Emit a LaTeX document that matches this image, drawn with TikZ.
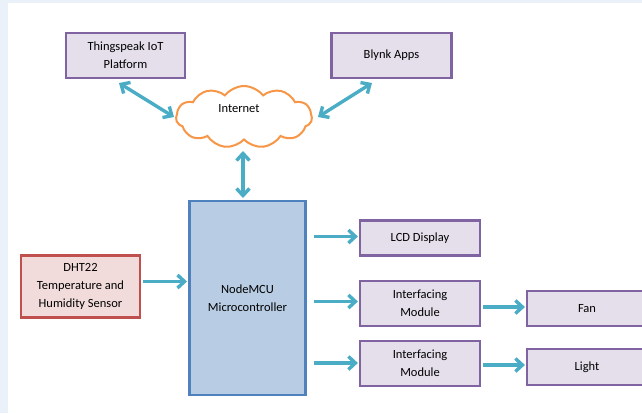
\documentclass[tikz,border=0pt]{standalone}
\usepackage{fontspec}
\setmainfont{Carlito}
\usetikzlibrary{arrows.meta,shapes.symbols}
\definecolor{purpfill}{HTML}{E5DFEC}
\definecolor{purpline}{HTML}{8064A2}
\definecolor{bluefill}{HTML}{B8CCE4}
\definecolor{blueline}{HTML}{4F81BD}
\definecolor{redfill}{HTML}{F2DCDB}
\definecolor{redline}{HTML}{C0504D}
\definecolor{arrowc}{HTML}{4BACC6}
\definecolor{orangec}{HTML}{F79646}
\definecolor{bgc}{HTML}{EAF1F8}
\tikzset{
  txt/.style={font=\fontsize{12.5}{18}\selectfont},
  pbox/.style={draw=purpline,fill=purpfill,line width=2.2pt,align=center,inner sep=0pt,txt},
  tip/.tip={Straight Barb[length=7pt,width=13pt,line width=3.4pt]},
  conn/.style={draw=arrowc,line width=3.4pt,-tip},
  bconn/.style={draw=arrowc,line width=3.4pt,tip-tip}
}
\begin{document}
\begin{tikzpicture}[x=1pt,y=-1pt]
\useasboundingbox (0,0) rectangle (642,413);
\fill[bgc] (0,0) rectangle (8,413);
\fill[bgc] (0,0) rectangle (642,3);
\clip (0,0) rectangle (642,413);
% boxes
\node[pbox,minimum width=119pt,minimum height=45pt] (ts) at (125.5,55.5) {Thingspeak IoT\\Platform};
\node[pbox,minimum width=120pt,minimum height=45pt] (bl) at (391.5,55.5) {Blynk Apps};
\node[cloud,cloud puffs=11,cloud puff arc=105,aspect=2.3,draw=orangec,fill=white,line width=2pt,
  minimum width=136pt,minimum height=62pt,inner sep=0pt] (net) at (244,117) {};
\node[txt] (nettxt) at (239,109) {Internet};
\node[draw=blueline,fill=bluefill,line width=2.2pt,minimum width=116pt,minimum height=194pt,inner sep=0pt,
  align=center,txt] (mcu) at (247.5,298) {NodeMCU\\Microcontroller};
\node[draw=redline,fill=redfill,line width=2.2pt,minimum width=119pt,minimum height=62pt,inner sep=0pt,
  align=center,txt] (dht) at (80.5,286.5) {DHT22\\Temperature and\\Humidity Sensor};
\node[pbox,minimum width=120pt,minimum height=35pt] (lcd) at (420,238) {LCD Display};
\node[pbox,minimum width=120pt,minimum height=45pt] (if1) at (420,303.5) {Interfacing\\Module};
\node[pbox,minimum width=120pt,minimum height=45pt] (if2) at (420,363.5) {Interfacing\\Module};
\node[pbox,minimum width=120pt,minimum height=35pt] (fan) at (587,308.5) {Fan};
\node[pbox,minimum width=120pt,minimum height=36pt] (lt) at (587,367) {Light};
% connectors
\draw[bconn] (119,83) -- (174,117);
\draw[bconn] (372,83) -- (318,117);
\draw[bconn] (243,151) -- (243,198);
\coordinate (d1) at (143,281.5);
\coordinate (d2) at (187,281.5);
\draw[conn] (d1) -- (d2);
\coordinate (a1) at (314,236.5);
\coordinate (a2) at (314,301.5);
\coordinate (a3) at (314,363);
\draw[conn] (a1) -- ([xshift=-1pt]a1 -| lcd.west);
\draw[conn] (a2) -- ([xshift=-1pt]a2 -| if1.west);
\draw[conn] (a3) -- ([xshift=-1pt]a3 -| if2.west);
\coordinate (b1) at (483,307);
\coordinate (b2) at (483,365);
\draw[conn] (b1) -- ([xshift=-1pt]b1 -| fan.west);
\draw[conn] (b2) -- ([xshift=-1pt]b2 -| lt.west);
\end{tikzpicture}
\end{document}
